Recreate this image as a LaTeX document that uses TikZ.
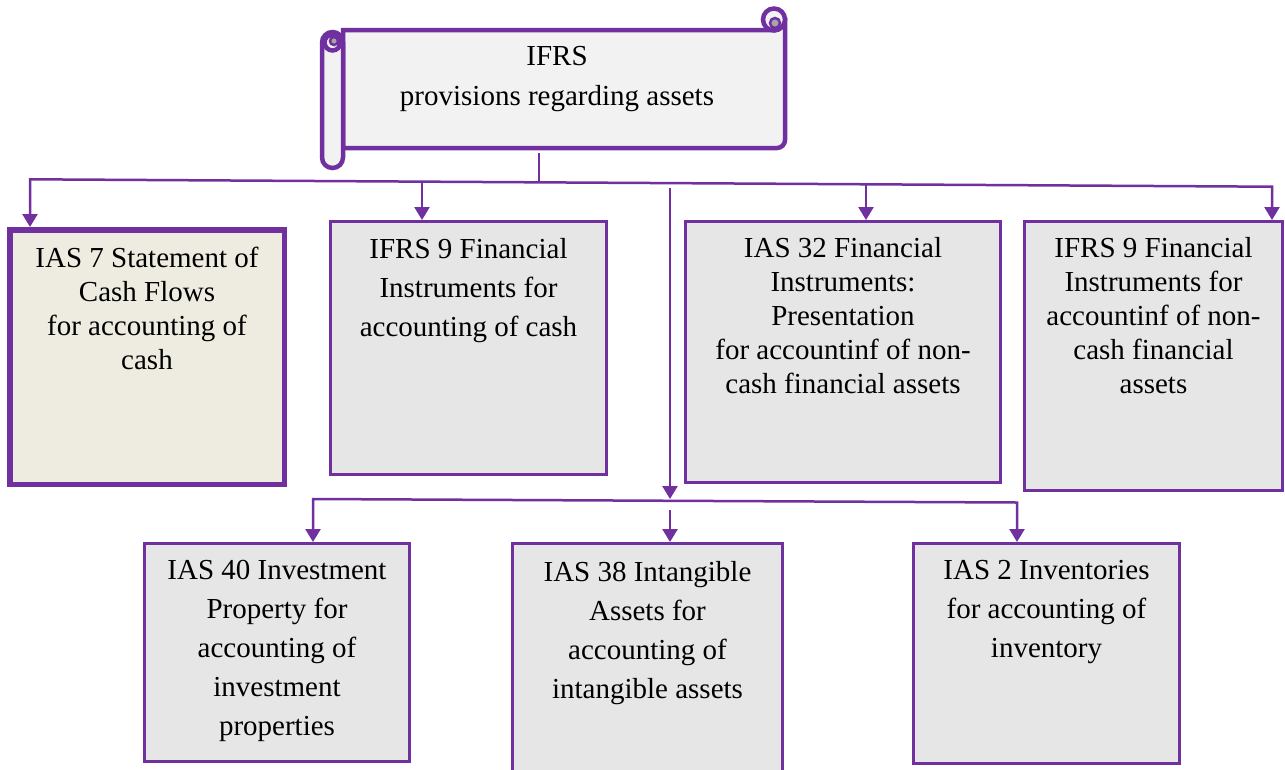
\documentclass[tikz,border=0pt]{standalone}
\usepackage{fontspec}
\setmainfont{Liberation Serif}
\usetikzlibrary{arrows.meta,positioning}
\definecolor{ifrspurple}{HTML}{7030A0}
\definecolor{boxgray}{HTML}{E6E6E6}
\definecolor{boxtan}{HTML}{EEECE1}
\definecolor{scrollgray}{HTML}{F2F2F2}
\definecolor{curlgray}{HTML}{A6A6A6}
\tikzset{>/.tip={Triangle[width=15pt,length=13pt]}}

\begin{document}
\begin{tikzpicture}[x=1pt,y=-1pt,
    box/.style={draw=ifrspurple,fill=boxgray,line width=3pt,inner sep=0pt},
    txt/.style={align=center,inner sep=0pt,font=\fontsize{29}{34}\selectfont},
    txtwide/.style={txt,font=\fontsize{29}{39}\selectfont},
    link/.style={draw=ifrspurple,line width=2.5pt},
    roll/.style={draw=ifrspurple,fill=scrollgray,line width=4.5pt}]
  \useasboundingbox (0,0) rectangle (1285,769);
  % scroll
  \path[roll] (343,30) -- (774,30) -- (774,19.5) -- (785,19.5) -- (785,140)
    arc[start angle=0,end angle=90,radius=8] -- (343,148) -- cycle;
  \path[roll] (774,19.5) circle[radius=11];
  \path[roll,rounded corners=10.5pt] (322,32) rectangle (343,168);
  \path[roll] (332.5,42.5) circle[radius=8];
  \filldraw[draw=ifrspurple,fill=curlgray,line width=2.5pt] (334,41) circle[radius=4];
  \filldraw[draw=ifrspurple,fill=curlgray,line width=2.5pt] (775,23) circle[radius=5];
  \node[txt,font=\fontsize{29}{40}\selectfont,anchor=north] (ifrs) at (557,46)
    {IFRS\\provisions regarding assets};
  % boxes
  \node[box,line width=5.5pt,fill=boxtan,minimum width=274.5pt,minimum height=254.5pt] (ias7) at (147,357) {};
  \node[box,minimum width=276pt,minimum height=253pt] (ifrsc) at (468.5,348) {};
  \node[box,minimum width=315pt,minimum height=261pt] (ias32) at (843,352) {};
  \node[box,minimum width=258pt,minimum height=269pt] (ifrsnc) at (1153.5,356) {};
  \node[box,minimum width=265pt,minimum height=218pt] (ias40) at (277,652.5) {};
  \node[box,minimum width=270pt,minimum height=228pt] (ias38) at (647.5,657.5) {};
  \node[box,minimum width=266pt,minimum height=220pt] (ias2) at (1046.5,653.5) {};
  \node[txt,below=20pt of ias7.north] {IAS 7 Statement of\\Cash Flows\\for accounting of\\cash};
  \node[txtwide,below=18pt of ifrsc.north] {IFRS 9 Financial\\Instruments for\\accounting of cash};
  \node[txt,below=17pt of ias32.north] {IAS 32 Financial\\Instruments:\\Presentation\\for accountinf of non-\\cash financial assets};
  \node[txt,below=17pt of ifrsnc.north] {IFRS 9 Financial\\Instruments for\\accountinf of non-\\cash financial\\assets};
  \node[txtwide,below=18pt of ias40.north] {IAS 40 Investment\\Property for\\accounting of\\investment\\properties};
  \node[txtwide,below=19pt of ias38.north] {IAS 38 Intangible\\Assets for\\accounting of\\intangible assets};
  \node[txtwide,below=18pt of ias2.north] {IAS 2 Inventories\\for accounting of\\inventory};
  % connectors
  \coordinate (stem) at (539,153);
  \coordinate (busL) at (30,179.3);
  \coordinate (busR) at (1272,186.7);
  \coordinate (d1) at (422,181.6);
  \coordinate (d2) at (866,184.3);
  \coordinate (d3) at (670,187.5);
  \coordinate (hub) at (670,499);
  \coordinate (busBL) at (313,499);
  \coordinate (busBR) at (1017,502.5);
  \coordinate (d4) at (670,510);
  \draw[link] (stem) -- (539,182.3);
  \draw[link,<->] (busL |- ias7.north) -- (busL) -- (busR) -- (busR |- ifrsnc.north);
  \draw[link,->] (d1) -- (d1 |- ifrsc.north);
  \draw[link,->] (d2) -- (d2 |- ias32.north);
  \draw[link,->] (d3) -- (hub);
  \draw[link,<->] (busBL |- ias40.north) -- (busBL) -- (busBR) -- (busBR |- ias2.north);
  \draw[link,->] (d4) -- (d4 |- ias38.north);
\end{tikzpicture}
\end{document}
